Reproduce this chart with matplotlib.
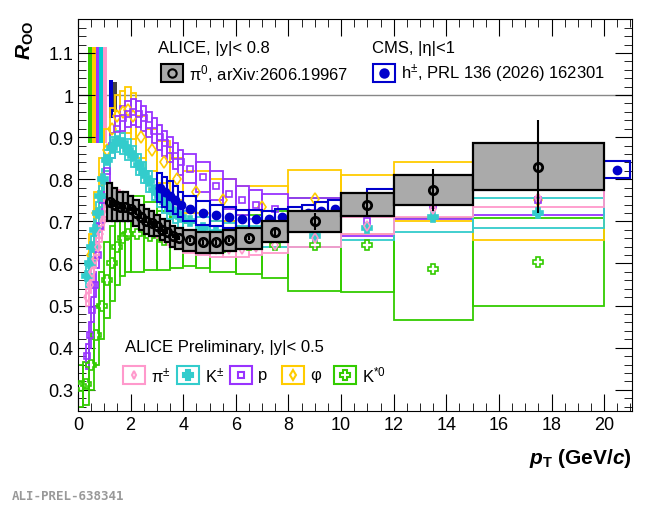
import matplotlib
matplotlib.use("Agg")
import matplotlib.pyplot as plt
from matplotlib.patches import Rectangle
from matplotlib.ticker import MultipleLocator
import numpy as np

plt.rcParams['font.family'] = ['Liberation Sans', 'DejaVu Sans']
plt.rcParams['mathtext.fontset'] = 'custom'
plt.rcParams['mathtext.rm'] = 'Liberation Sans'
plt.rcParams['mathtext.it'] = 'Liberation Sans:italic'
plt.rcParams['mathtext.bf'] = 'Liberation Sans:bold'
plt.rcParams['mathtext.bfit'] = 'Liberation Sans:bold:italic'

# ALICE preliminary, identified hadrons (|y|<0.5)
edges_pid = [0.3, 0.4, 0.5, 0.6, 0.7, 0.8, 0.9, 1.0, 1.2, 1.4, 1.6, 1.8, 2.0, 2.2, 2.4, 2.6,
             2.8, 3.0, 3.2, 3.4, 3.6, 3.8, 4.0, 4.5, 5.0, 5.5, 6.0, 6.5, 7.0, 8.0, 10.0, 12.0,
             15.0, 20.0]
pi_val = [0.52, 0.55, 0.58, 0.61, 0.64, 0.67, 0.70, 0.73, 0.75, 0.755, 0.75, 0.74, 0.73, 0.72,
          0.71, 0.70, 0.69, 0.68, 0.67, 0.665, 0.66, 0.655, 0.645, 0.64, 0.635, 0.635, 0.635,
          0.64, 0.645, 0.66, 0.69, 0.73, 0.755]
pi_sys = [0.02] * 33
ka_val = [0.57, 0.60, 0.64, 0.68, 0.72, 0.76, 0.80, 0.845, 0.875, 0.89, 0.885, 0.87, 0.855,
          0.835, 0.815, 0.795, 0.775, 0.76, 0.745, 0.73, 0.72, 0.71, 0.70, 0.685, 0.675, 0.67,
          0.665, 0.665, 0.665, 0.665, 0.685, 0.71, 0.72]
ka_sys = [0.025] * 30 + [0.03, 0.035, 0.035]
pr_val = [0.38, 0.43, 0.49, 0.55, 0.62, 0.69, 0.75, 0.82, 0.88, 0.92, 0.945, 0.955, 0.96,
          0.955, 0.945, 0.93, 0.915, 0.90, 0.885, 0.87, 0.855, 0.84, 0.825, 0.805, 0.785,
          0.765, 0.75, 0.74, 0.73, 0.72, 0.70, 0.74, 0.75]
pr_sys = [0.03] * 22 + [0.035] * 11

edges_phi = [0.4, 0.6, 0.8, 1.0, 1.2, 1.4, 1.6, 1.8, 2.0, 2.2, 2.6, 3.0, 3.5, 4.0, 5.0, 6.0,
             8.0, 10.0, 12.0, 15.0, 20.0]
phi_val = [0.62, 0.72, 0.80, 0.87, 0.92, 0.95, 0.96, 0.965, 0.95, 0.90, 0.87, 0.84, 0.80,
           0.77, 0.75, 0.735, 0.752, 0.74, 0.77, 0.75]
phi_sys = [0.05, 0.05, 0.05, 0.05, 0.05, 0.05, 0.05, 0.055, 0.055, 0.05, 0.05, 0.05, 0.05,
           0.05, 0.05, 0.05, 0.07, 0.07, 0.07, 0.095]

edges_ks = [0.0, 0.2, 0.4, 0.6, 0.8, 1.0, 1.2, 1.4, 1.6, 1.8, 2.0, 2.5, 3.0, 3.5, 4.0, 4.5,
            5.0, 6.0, 7.0, 8.0, 10.0, 12.0, 15.0, 20.0]
ks_val = [0.31, 0.315, 0.36, 0.43, 0.50, 0.56, 0.60, 0.64, 0.66, 0.67, 0.67, 0.665, 0.655,
          0.65, 0.645, 0.64, 0.64, 0.645, 0.645, 0.645, 0.643, 0.587, 0.603]
ks_sys = [0.05, 0.05, 0.06, 0.07, 0.08, 0.09, 0.09, 0.09, 0.09, 0.09, 0.09, 0.08, 0.07,
          0.06, 0.05, 0.05, 0.06, 0.07, 0.08, 0.11, 0.11, 0.12, 0.105]

# ALICE pi0 (|y|<0.8)
edges_pi0 = [1.1, 1.3, 1.5, 1.7, 1.9, 2.1, 2.3, 2.5, 2.7, 2.9, 3.1, 3.3, 3.5, 3.7, 4.0, 4.5,
             5.0, 5.5, 6.0, 7.0, 8.0, 10.0, 12.0, 15.0, 20.0]
pi0_val = [0.745, 0.74, 0.735, 0.735, 0.73, 0.72, 0.71, 0.70, 0.695, 0.69, 0.68, 0.675,
           0.665, 0.66, 0.655, 0.65, 0.65, 0.655, 0.66, 0.675, 0.70, 0.74, 0.775, 0.83]
pi0_sys = [0.045, 0.04, 0.035, 0.035, 0.03, 0.03, 0.03, 0.03, 0.03, 0.025, 0.025, 0.025,
           0.025, 0.025, 0.025, 0.025, 0.025, 0.025, 0.025, 0.025, 0.025, 0.028, 0.035, 0.055]
pi0_stat = [0.005] * 19 + [0.01, 0.02, 0.03, 0.05, 0.11]

# CMS h+- (|eta|<1)
edges_cms = [3.0, 3.2, 3.4, 3.6, 3.8, 4.0, 4.5, 5.0, 5.5, 6.0, 6.5, 7.0, 7.5, 8.0, 8.5, 9.0,
             9.5, 10.0, 11.0, 12.0, 13.0, 14.0, 15.0, 16.0, 17.0, 18.0, 19.0, 20.0, 21.0]
cms_val = [0.78, 0.77, 0.76, 0.75, 0.74, 0.73, 0.72, 0.715, 0.71, 0.705, 0.705, 0.705, 0.71,
           0.715, 0.72, 0.725, 0.73, 0.744, 0.756, 0.763, 0.775, 0.787, 0.795, 0.805, 0.81,
           0.81, 0.823, 0.823]
cms_sys = [0.035, 0.035, 0.035, 0.033, 0.03, 0.03, 0.028, 0.025, 0.025, 0.022, 0.022, 0.02,
           0.02, 0.02, 0.02, 0.02, 0.02, 0.02, 0.02, 0.02, 0.02, 0.02, 0.02, 0.02, 0.02, 0.02,
           0.02, 0.02]

# normalisation uncertainties at unity
norm_colors = ['#33cc00', '#ffcc00', '#9933ff', '#00cccc', '#ff99cc']
norm_half = [0.115, 0.115, 0.115, 0.115, 0.115]

PINK, CYAN, PURP, YEL, GRN = '#ff99cc', '#33cccc', '#9933ff', '#ffcc00', '#33cc00'
BLUE = '#0000cc'

fig = plt.figure(figsize=(6.5, 5.06), dpi=100)
ax = fig.add_axes([0.12, 0.186, 0.852, 0.774])


def boxes(edges, val, sys, color, face='none', lw=1.3, z=2):
    e = np.array(edges)
    for lo, hi, v, s in zip(e[:-1], e[1:], val, sys):
        ax.add_patch(Rectangle((lo, v - s), hi - lo, 2 * s, facecolor=face,
                               edgecolor=color, lw=lw, zorder=z))
    return (e[:-1] + e[1:]) / 2


for edges, val, sys, col, mk, ms in [
        (edges_ks, ks_val, ks_sys, GRN, 'P', 7),
        (edges_phi, phi_val, phi_sys, YEL, 'd', 6),
        (edges_pid, pr_val, pr_sys, PURP, 's', 5),
        (edges_pid, ka_val, ka_sys, CYAN, 'P', 7),
        (edges_pid, pi_val, pi_sys, PINK, 'd', 5)]:
    x = boxes(edges, val, sys, col)
    mfc = col if col == CYAN else 'none'
    ax.plot(x, val, ls='none', marker=mk, ms=ms, mfc=mfc, mec=col, mew=1.2, zorder=3)

x = boxes(edges_cms, cms_val, cms_sys, BLUE, lw=1.5, z=4)
ax.plot(x, cms_val, 'o', color=BLUE, ms=6, zorder=5)

x = boxes(edges_pi0, pi0_val, pi0_sys, 'black', face='#aaaaaa', lw=1.6, z=6)
ax.errorbar(x, pi0_val, yerr=pi0_stat, fmt='o', ms=6, mfc='none', mec='black', mew=2,
            ecolor='black', elinewidth=1.5, zorder=7)

ax.axhline(1.0, color='#888888', lw=1, zorder=1)
for i, (c, h) in enumerate(zip(norm_colors, norm_half)):
    ax.add_patch(Rectangle((0.38 + i * 0.145, 1 - h), 0.145, 2 * h, color=c, lw=0, zorder=1))
ax.add_patch(Rectangle((1.18, 0.945), 0.15, 0.09, color=BLUE, lw=0, zorder=1))
ax.add_patch(Rectangle((1.33, 0.96), 0.15, 0.07, color='#444444', lw=0, zorder=1))

ax.set_xlim(0, 21.05)
ax.set_ylim(0.25, 1.18)
ax.xaxis.set_major_locator(MultipleLocator(2))
ax.xaxis.set_minor_locator(MultipleLocator(0.5))
ax.yaxis.set_minor_locator(MultipleLocator(0.02))
ax.set_yticks([0.3, 0.4, 0.5, 0.6, 0.7, 0.8, 0.9, 1.0, 1.1])
ax.set_yticklabels(['0.3', '0.4', '0.5', '0.6', '0.7', '0.8', '0.9', '1', '1.1'])
ax.tick_params(which='both', direction='in', top=True, right=True, labelsize=13)
ax.tick_params(which='major', length=12)
ax.tick_params(which='minor', length=6)

ax.text(-0.075, 1.0, r'$\boldsymbol{R}_{\mathbf{OO}}$', transform=ax.transAxes, rotation=90,
        ha='right', va='top', fontsize=15)
ax.text(1.0, -0.09, r'$\boldsymbol{p}_{\mathbf{T}}$ (GeV/$\boldsymbol{c}$)', transform=ax.transAxes,
        ha='right', va='top', fontsize=15, fontweight='bold')
fig.text(0.018, 0.012, 'ALI-PREL-638341', family='DejaVu Sans Mono', color='#999999',
         fontsize=9, fontweight='bold')


def ax_px(px, py):
    return (px - 78) / 554, (412 - py) / 392


def leg_item(px, py, color, face, mk, ms, mfc, label, w=22, h=18):
    x0, y0 = ax_px(px - w / 2, py + h / 2)
    ax.add_patch(Rectangle((x0, y0), w / 554, h / 392, transform=ax.transAxes,
                           facecolor=face, edgecolor=color, lw=1.5, zorder=8))
    xc, yc = ax_px(px, py)
    ax.plot([xc], [yc], marker=mk, ms=ms, mfc=mfc, mec=color, mew=1.5,
            transform=ax.transAxes, zorder=9)
    tx, ty = ax_px(px + w / 2 + 6, py)
    ax.text(tx, ty, label, transform=ax.transAxes, va='center', fontsize=12)


ax.text(*ax_px(158, 48), 'ALICE, |y|< 0.8', transform=ax.transAxes, va='center', fontsize=12)
leg_item(172, 74, 'black', '#aaaaaa', 'o', 6, 'none', r'π$^{0}$, arXiv:2606.19967')
ax.text(*ax_px(372, 48), 'CMS, |η|<1', transform=ax.transAxes, va='center', fontsize=12)
leg_item(384, 74, BLUE, 'none', 'o', 6, BLUE, r'h$^{\pm}$, PRL 136 (2026) 162301')
ax.text(*ax_px(125, 348), 'ALICE Preliminary, |y|< 0.5', transform=ax.transAxes,
        va='center', fontsize=12)
leg_item(134, 376, PINK, 'none', 'd', 4, 'none', r'π$^{\pm}$')
leg_item(188, 376, CYAN, 'none', 'P', 7, CYAN, r'K$^{\pm}$')
leg_item(241, 376, PURP, 'none', 's', 5, 'none', 'p')
leg_item(293, 376, YEL, 'none', 'd', 5, 'none', 'φ')
leg_item(345, 376, GRN, 'none', 'P', 7, 'none', r'K$^{*0}$')

fig.savefig('out.png', dpi=100)
